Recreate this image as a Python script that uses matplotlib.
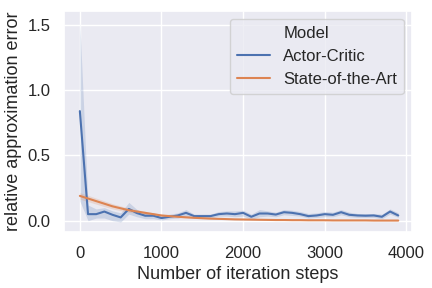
import matplotlib
matplotlib.use("Agg")
import matplotlib.pyplot as plt
from matplotlib.lines import Line2D
import seaborn as sns

sns.set_theme(style="darkgrid")
plt.rcParams["font.family"] = ["Liberation Sans", "DejaVu Sans"]

steps = list(range(0, 4000, 100))

# Actor-Critic mean and confidence band
ac_mean = [0.84, 0.05, 0.05, 0.07, 0.045, 0.025, 0.09, 0.058, 0.038, 0.038,
           0.02, 0.03, 0.04, 0.06, 0.035, 0.035, 0.035, 0.05, 0.055, 0.05,
           0.06, 0.03, 0.055, 0.055, 0.047, 0.065, 0.06, 0.05, 0.035, 0.04,
           0.05, 0.045, 0.065, 0.045, 0.04, 0.038, 0.04, 0.03, 0.07, 0.04]
ac_lo = [0.15, 0.0, 0.02, 0.02, 0.0, -0.01, 0.05, 0.03, 0.015, 0.015,
         0.005, 0.015, 0.02, 0.035, 0.02, 0.02, 0.02, 0.035, 0.035, 0.03,
         0.035, 0.01, 0.03, 0.035, 0.03, 0.045, 0.04, 0.035, 0.02, 0.025,
         0.03, 0.03, 0.045, 0.03, 0.025, 0.025, 0.025, 0.015, 0.05, 0.025]
ac_hi = [1.52, 0.12, 0.09, 0.1, 0.075, 0.06, 0.14, 0.085, 0.06, 0.06,
         0.04, 0.05, 0.06, 0.085, 0.05, 0.05, 0.05, 0.07, 0.075, 0.075,
         0.08, 0.05, 0.085, 0.075, 0.065, 0.085, 0.08, 0.07, 0.055, 0.06,
         0.07, 0.065, 0.085, 0.065, 0.055, 0.055, 0.055, 0.05, 0.09, 0.06]

# State-of-the-Art mean and confidence band
sota_mean = [0.19, 0.17, 0.15, 0.13, 0.11, 0.095, 0.08, 0.07, 0.06, 0.05,
             0.04, 0.035, 0.03, 0.026, 0.022, 0.019, 0.016, 0.014, 0.012, 0.01,
             0.009, 0.008, 0.007, 0.006, 0.005, 0.005, 0.004, 0.004, 0.003, 0.003,
             0.003, 0.002, 0.002, 0.002, 0.002, 0.002, 0.001, 0.001, 0.001, 0.001]
sota_half = [0.025, 0.024, 0.023, 0.022, 0.02, 0.018, 0.016, 0.014, 0.012, 0.01,
             0.009, 0.008, 0.007, 0.006, 0.005, 0.004, 0.004, 0.003, 0.003, 0.003,
             0.002, 0.002, 0.002, 0.002, 0.002, 0.001, 0.001, 0.001, 0.001, 0.001,
             0.001, 0.001, 0.001, 0.001, 0.001, 0.001, 0.001, 0.001, 0.001, 0.001]

colors = sns.color_palette()
blue, orange = colors[0], colors[1]

fig, ax = plt.subplots(figsize=(4.32, 2.88), dpi=100)
fig.subplots_adjust(left=0.148, right=0.954, top=0.963, bottom=0.193)

ax.fill_between(steps, ac_lo, ac_hi, color=blue, alpha=0.2, linewidth=0)
ax.plot(steps, ac_mean, color=blue, linewidth=1.5)
sota_lo = [m - h for m, h in zip(sota_mean, sota_half)]
sota_hi = [m + h for m, h in zip(sota_mean, sota_half)]
ax.fill_between(steps, sota_lo, sota_hi, color=orange, alpha=0.2, linewidth=0)
ax.plot(steps, sota_mean, color=orange, linewidth=1.5)

ax.set_xticks([0, 1000, 2000, 3000, 4000])
ax.set_yticks([0.0, 0.5, 1.0, 1.5])
ax.set_xlim(-195, 4070)
ax.set_ylim(-0.09, 1.61)
ax.tick_params(labelsize=12)
ax.set_xlabel("Number of iteration steps", fontsize=13)
ax.set_ylabel("relative approximation error", fontsize=13)

handles = [Line2D([], [], linestyle="none"),
           Line2D([], [], color=blue, linewidth=1.5),
           Line2D([], [], color=orange, linewidth=1.5)]
labels = ["Model", "Actor-Critic", "State-of-the-Art"]
ax.legend(handles, labels, loc="upper right", fontsize=12)

fig.savefig("out.png")
